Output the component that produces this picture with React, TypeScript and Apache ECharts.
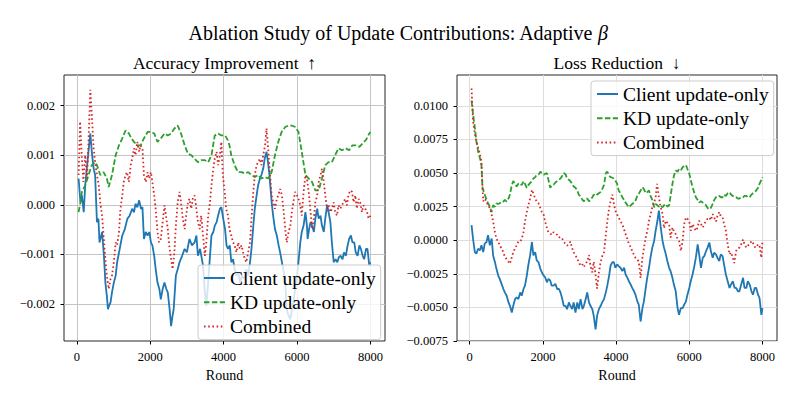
import React, { useEffect, useRef } from 'react';
import * as echarts from 'echarts';

const FONT = '"Liberation Serif", "Times New Roman", serif';
const seriesNames = ['Client update-only', 'KD update-only', 'Combined'];
const seriesColors = ['#1f77b4', '#2ca02c', '#d62728'];
const roundTicks = [0, 2000, 4000, 6000, 8000];
const accTicks = [-0.002, -0.001, 0, 0.001, 0.002];
const lossTicks = [-0.0075, -0.005, -0.0025, 0, 0.0025, 0.005, 0.0075, 0.01];
const mainTitle = 'Ablation Study of Update Contributions: Adaptive ';
const subTitles = ['Accuracy Improvement  \u2191', 'Loss Reduction  \u2193'];
const xName = 'Round';

// Accuracy improvement: [round, value]
const accClient: [number, number][] = [
  [50, 0.00053], [100, 0.00005], [140, 0.00019], [190, -0.00015], [230, 0.00039], [300, 0.00093], [370, 0.00144], [410, 0.00107],
  [460, 0.00073], [500, 0.0006], [550, -0.00035], [590, -0.00028], [620, -0.00076], [690, -0.00055], [740, -0.00103], [780, -0.00157],
  [820, -0.00184], [850, -0.00211], [880, -0.00204], [920, -0.00197], [960, -0.00177], [1010, -0.00157], [1060, -0.00143], [1100, -0.00116],
  [1170, -0.00089], [1240, -0.00062], [1310, -0.00049], [1380, -0.00028], [1440, -0.00022], [1510, -0.00008], [1560, -0.00015], [1600, 0.00002],
  [1650, -0.00005], [1700, 0.00009], [1750, -0.00008], [1790, -0.00005], [1830, -0.00069], [1880, -0.00055], [1930, -0.00062], [1980, -0.00055],
  [2020, -0.00076], [2060, -0.00082], [2110, -0.00103], [2150, -0.0013], [2200, -0.00157], [2250, -0.0017], [2290, -0.00191], [2340, -0.0017],
  [2390, -0.00157], [2440, -0.0017], [2480, -0.00177], [2530, -0.00211], [2570, -0.00245], [2610, -0.00224], [2640, -0.00211], [2700, -0.00143],
  [2750, -0.0013], [2800, -0.00116], [2870, -0.00103], [2940, -0.00089], [3000, -0.00096], [3070, -0.00069], [3140, -0.00082], [3210, -0.00076],
  [3260, -0.00062], [3300, -0.00103], [3360, -0.00089], [3440, -0.00123], [3490, -0.00177], [3530, -0.00204], [3580, -0.00157], [3630, -0.00103],
  [3670, -0.00062], [3720, -0.00055], [3760, -0.00042], [3810, -0.00035], [3850, -0.00022], [3900, -0.00008], [3940, -0.00005], [3990, -0.00028],
  [4040, -0.00049], [4080, -0.00082], [4120, -0.00089], [4170, -0.00082], [4210, -0.00116], [4260, -0.0011], [4300, -0.0013], [4350, -0.00143],
  [4400, -0.00136], [4450, -0.00157], [4500, -0.00143], [4560, -0.0015], [4620, -0.0013], [4670, -0.00143], [4720, -0.00116], [4760, -0.00089],
  [4810, -0.00042], [4850, -0.00008], [4900, 0.00019], [4940, 0.00039], [4990, 0.00053], [5030, 0.0006], [5080, 0.00073], [5120, 0.00093],
  [5170, 0.00107], [5210, 0.00086], [5250, 0.0006], [5310, 0.00005], [5350, -0.00022], [5400, -0.00049], [5450, -0.00062], [5500, -0.00082],
  [5540, -0.00096], [5590, -0.00116], [5640, -0.00136], [5680, -0.00157], [5720, -0.00211], [5770, -0.00224], [5820, -0.00231], [5860, -0.00211],
  [5900, -0.00197], [5950, -0.0017], [6000, -0.00143], [6040, -0.00116], [6090, -0.00076], [6130, -0.00055], [6180, -0.00042], [6230, -0.00015],
  [6270, -0.00042], [6290, -0.00069], [6330, -0.00049], [6370, -0.00035], [6410, -0.00042], [6460, -0.00055], [6500, -0.00028], [6550, -0.00008],
  [6590, -0.00028], [6640, -0.00022], [6680, -0.00042], [6730, -0.00055], [6770, -0.00028], [6820, -0.00001], [6860, -0.00015], [6910, -0.00035],
  [6950, -0.00076], [7000, -0.00116], [7050, -0.0011], [7100, -0.00116], [7140, -0.00106], [7190, -0.00103], [7240, -0.0011], [7280, -0.00096],
  [7330, -0.00103], [7380, -0.00082], [7420, -0.00069], [7470, -0.00062], [7510, -0.00076], [7560, -0.00076], [7600, -0.00096], [7650, -0.00103],
  [7700, -0.00082], [7740, -0.00089], [7790, -0.00103], [7830, -0.0011], [7880, -0.00089], [7920, -0.00089], [7970, -0.00123], [8000, -0.00116],
];

const accKD: [number, number][] = [
  [50, -0.00015], [100, 0.00005], [140, 0.00026], [230, 0.00039], [320, 0.0006], [410, 0.0008], [500, 0.00086], [550, 0.0008],
  [640, 0.0006], [730, 0.00066], [820, 0.00053], [870, 0.00036], [960, 0.0006], [1060, 0.001], [1150, 0.0012], [1240, 0.00134],
  [1330, 0.0015], [1420, 0.00144], [1490, 0.00134], [1560, 0.00127], [1650, 0.0012], [1740, 0.0012], [1830, 0.00134], [1930, 0.00147],
  [2020, 0.00147], [2110, 0.00144], [2200, 0.00127], [2290, 0.00134], [2390, 0.00144], [2480, 0.0014], [2570, 0.00144], [2660, 0.00154],
  [2750, 0.0016], [2840, 0.00144], [2940, 0.0012], [3030, 0.00103], [3120, 0.001], [3210, 0.00093], [3300, 0.00086], [3390, 0.0009],
  [3490, 0.0009], [3580, 0.00086], [3670, 0.001], [3760, 0.0014], [3850, 0.00144], [3940, 0.0014], [4040, 0.0014], [4120, 0.0013],
  [4160, 0.0012], [4210, 0.001], [4300, 0.0008], [4390, 0.00066], [4490, 0.00066], [4580, 0.00063], [4670, 0.00066], [4760, 0.0006],
  [4850, 0.00056], [4940, 0.0006], [5030, 0.00053], [5120, 0.00056], [5220, 0.00053], [5310, 0.00066], [5400, 0.001], [5490, 0.00127],
  [5580, 0.00147], [5680, 0.00157], [5770, 0.0016], [5860, 0.0016], [5950, 0.00157], [6040, 0.00147], [6130, 0.00107], [6230, 0.0006],
  [6320, 0.00053], [6410, 0.00046], [6500, 0.00029], [6590, 0.00029], [6680, 0.00053], [6770, 0.0008], [6860, 0.00086], [6950, 0.00086],
  [7040, 0.001], [7130, 0.00114], [7220, 0.0011], [7330, 0.00114], [7420, 0.0011], [7510, 0.0012], [7600, 0.0012], [7700, 0.00117],
  [7790, 0.00124], [7880, 0.00131], [7970, 0.00144], [8000, 0.00147],
];

const accCombined: [number, number][] = [
  [50, 0.0006], [90, 0.00168], [140, 0.00093], [180, 0.00046], [230, 0.001], [280, 0.00053], [320, 0.00127], [370, 0.00232],
  [410, 0.00181], [460, 0.00114], [500, 0.00086], [550, 0.0006], [600, 0.00039], [640, 0.00005], [690, -0.00022], [730, -0.00062],
  [780, -0.0011], [820, -0.00143], [870, -0.0017], [920, -0.0015], [960, -0.00143], [1010, -0.00116], [1060, -0.00076], [1100, -0.00082],
  [1150, -0.00055], [1190, -0.00008], [1240, 0.00019], [1280, 0.00046], [1330, 0.0006], [1370, 0.00066], [1420, 0.00046], [1470, 0.0008],
  [1510, 0.00093], [1560, 0.00114], [1600, 0.001], [1650, 0.00127], [1700, 0.00107], [1740, 0.0012], [1790, 0.00114], [1830, 0.0006],
  [1880, 0.00046], [1930, 0.00066], [1970, 0.00053], [2020, 0.00066], [2060, 0.00046], [2110, 0.00019], [2150, -0.00008], [2200, -0.00055],
  [2240, -0.00076], [2290, -0.00069], [2340, -0.00035], [2390, -0.00001], [2430, -0.00022], [2480, -0.00049], [2520, -0.00082], [2570, -0.0011],
  [2610, -0.0013], [2660, -0.00096], [2700, -0.00042], [2750, 0.00005], [2800, 0.00026], [2840, 0.00005], [2890, -0.00028], [2940, -0.00049],
  [2980, -0.00022], [3030, 0.00005], [3070, 0.00012], [3120, -0.00008], [3160, 0.00012], [3210, 0.00019], [3260, -0.00008], [3300, -0.00035],
  [3350, -0.00049], [3390, -0.00022], [3440, -0.00062], [3490, -0.00103], [3530, -0.00076], [3580, -0.00022], [3630, 0.00005], [3670, 0.00039],
  [3720, 0.00073], [3760, 0.00093], [3810, 0.00107], [3850, 0.0008], [3900, 0.001], [3940, 0.00127], [3980, 0.0006], [4030, 0.00026],
  [4070, -0.00008], [4120, -0.00022], [4160, -0.00049], [4210, -0.00062], [4260, -0.00076], [4300, -0.00082], [4350, -0.00096], [4400, -0.00076],
  [4440, -0.00089], [4490, -0.00082], [4530, -0.00096], [4580, -0.0011], [4620, -0.00116], [4670, -0.00096], [4720, -0.00076], [4760, -0.00028],
  [4810, 0.00026], [4850, 0.0006], [4900, 0.0008], [4940, 0.00086], [4990, 0.00093], [5030, 0.0008], [5080, 0.001], [5130, 0.0012],
  [5170, 0.00154], [5220, 0.00107], [5260, 0.00066], [5310, 0.00019], [5350, 0.00005], [5400, -0.00008], [5450, 0.00012], [5490, 0.00019],
  [5540, 0.00032], [5590, 0.00019], [5630, -0.00008], [5680, -0.00049], [5720, -0.00076], [5770, -0.00055], [5820, -0.00042], [5860, -0.00015],
  [5900, 0.00005], [5950, 0.00026], [6000, 0.00019], [6040, 0.00012], [6090, -0.00001], [6130, -0.00022], [6180, 0.00026], [6230, 0.0006],
  [6270, 0.00053], [6320, 0.00026], [6370, -0.00015], [6410, -0.00049], [6460, -0.00028], [6500, 0.00005], [6550, 0.00019], [6590, 0.00046],
  [6640, 0.0006], [6680, 0.00073], [6730, 0.00046], [6770, 0.00019], [6820, -0.00008], [6860, -0.00001], [6910, -0.00015], [6950, -0.00008],
  [7000, 0.00005], [7040, -0.00015], [7090, -0.00022], [7130, -0.00001], [7180, -0.00008], [7220, -0.00001], [7270, 0.00005], [7310, 0.00012],
  [7360, -0.00001], [7400, 0.00019], [7450, 0.00029], [7500, 0.00026], [7540, 0.00005], [7590, 0.00019], [7630, -0.00008], [7680, 0.00012],
  [7720, 0.00005], [7770, -0.00015], [7810, -0.00001], [7860, -0.00008], [7910, -0.00015], [7950, -0.00028], [8000, -0.00022],
];

// Loss reduction: [round, value]
const lossClient: [number, number][] = [
  [50, 0.00113], [90, 0.00013], [140, -0.00088], [180, -0.001], [230, -0.00063], [280, -0.00075], [320, -0.00038], [370, -0.00088],
  [410, -0.00025], [460, -0.00013], [500, 0.00038], [550, -0.00038], [600, 0.00013], [640, -0.00113], [690, -0.00163], [730, -0.00213],
  [780, -0.00263], [820, -0.00288], [870, -0.00325], [920, -0.00363], [960, -0.00388], [1010, -0.00413], [1060, -0.00463], [1100, -0.00488],
  [1150, -0.00538], [1190, -0.00488], [1240, -0.00438], [1280, -0.00425], [1330, -0.00438], [1380, -0.00388], [1420, -0.00413], [1470, -0.00363],
  [1510, -0.00338], [1560, -0.00263], [1600, -0.00188], [1650, -0.00113], [1700, -0.00013], [1740, -0.00113], [1790, -0.00088], [1830, -0.0015],
  [1880, -0.00163], [1930, -0.00213], [1970, -0.00238], [2020, -0.00263], [2060, -0.00275], [2110, -0.00313], [2150, -0.00288], [2200, -0.003],
  [2240, -0.00338], [2290, -0.00338], [2340, -0.00325], [2390, -0.00363], [2440, -0.00363], [2480, -0.00388], [2530, -0.00438], [2570, -0.00488],
  [2620, -0.00488], [2660, -0.00513], [2710, -0.00463], [2750, -0.00488], [2800, -0.00513], [2840, -0.00463], [2890, -0.00538], [2940, -0.00463],
  [2980, -0.00513], [3030, -0.00438], [3080, -0.00513], [3120, -0.00488], [3170, -0.00438], [3210, -0.00388], [3260, -0.00463], [3300, -0.00488],
  [3350, -0.00513], [3390, -0.00563], [3440, -0.00663], [3480, -0.00563], [3530, -0.00513], [3580, -0.00488], [3620, -0.00463], [3670, -0.00438],
  [3720, -0.00388], [3760, -0.00338], [3810, -0.00263], [3850, -0.00188], [3900, -0.00163], [3940, -0.00163], [3980, -0.00205], [4030, -0.0018],
  [4070, -0.00193], [4120, -0.00205], [4170, -0.0023], [4220, -0.00205], [4260, -0.00255], [4310, -0.0028], [4350, -0.00305], [4400, -0.0033],
  [4440, -0.00355], [4490, -0.0038], [4530, -0.00405], [4580, -0.00455], [4620, -0.0048], [4670, -0.00605], [4720, -0.00505], [4760, -0.00455],
  [4810, -0.00355], [4850, -0.0028], [4900, -0.00205], [4940, -0.0013], [4990, -0.00055], [5040, -0.00005], [5080, 0.0007], [5130, 0.00145],
  [5170, 0.0022], [5220, 0.00095], [5270, -0.00005], [5310, -0.00055], [5360, -0.00105], [5400, -0.00155], [5450, -0.00205], [5490, -0.0023],
  [5540, -0.0028], [5580, -0.0033], [5630, -0.0038], [5680, -0.00505], [5720, -0.00555], [5770, -0.00505], [5820, -0.00505], [5860, -0.0048],
  [5910, -0.00455], [5950, -0.00405], [6000, -0.00355], [6040, -0.00305], [6090, -0.00255], [6130, -0.00205], [6180, -0.0013], [6230, -0.0003],
  [6270, -0.00105], [6320, -0.00205], [6370, -0.0013], [6410, -0.00118], [6460, -0.0008], [6500, -0.00055], [6550, -0.00018], [6590, -0.0008],
  [6640, -0.0013], [6680, -0.00093], [6730, -0.00105], [6770, -0.0013], [6820, -0.00155], [6860, -0.00105], [6910, -0.00118], [6950, -0.0018],
  [7000, -0.00255], [7050, -0.00305], [7100, -0.00355], [7140, -0.0033], [7190, -0.00305], [7240, -0.00355], [7280, -0.00355], [7330, -0.0038],
  [7370, -0.0038], [7420, -0.0033], [7470, -0.0028], [7510, -0.00355], [7560, -0.00355], [7600, -0.00305], [7650, -0.0033], [7700, -0.0038],
  [7740, -0.00405], [7790, -0.00355], [7830, -0.00355], [7880, -0.00405], [7920, -0.0043], [7970, -0.00555], [8000, -0.00505],
];

const lossKD: [number, number][] = [
  [50, 0.0104], [90, 0.0094], [140, 0.0084], [180, 0.0074], [230, 0.0066], [280, 0.0061], [320, 0.0056], [350, 0.0039],
  [410, 0.0034], [460, 0.003], [500, 0.00275], [550, 0.0025], [600, 0.0021], [640, 0.0026], [690, 0.0025], [730, 0.00275],
  [780, 0.0027], [820, 0.00275], [870, 0.0029], [920, 0.00288], [960, 0.003], [1010, 0.00288], [1060, 0.0031], [1100, 0.0034],
  [1150, 0.0041], [1190, 0.0044], [1240, 0.0042], [1280, 0.004], [1330, 0.0042], [1380, 0.00425], [1420, 0.0041], [1470, 0.0044],
  [1510, 0.0042], [1560, 0.0039], [1600, 0.0041], [1650, 0.00425], [1700, 0.0044], [1740, 0.0046], [1790, 0.0047], [1830, 0.00488],
  [1880, 0.0049], [1930, 0.0051], [1970, 0.005], [2020, 0.00488], [2060, 0.00495], [2110, 0.005], [2150, 0.0045], [2200, 0.0039],
  [2240, 0.0041], [2290, 0.00413], [2340, 0.0043], [2390, 0.0044], [2440, 0.0045], [2480, 0.0046], [2530, 0.0048], [2570, 0.005],
  [2620, 0.0049], [2660, 0.0046], [2710, 0.0045], [2750, 0.0044], [2800, 0.0042], [2840, 0.004], [2890, 0.0039], [2940, 0.0037],
  [2980, 0.0034], [3030, 0.00325], [3080, 0.003], [3120, 0.0029], [3170, 0.0031], [3210, 0.0031], [3260, 0.0029], [3300, 0.003],
  [3350, 0.0032], [3390, 0.0034], [3440, 0.0033], [3480, 0.0034], [3530, 0.0035], [3580, 0.0036], [3620, 0.0038], [3670, 0.0041],
  [3720, 0.005], [3760, 0.0051], [3810, 0.0048], [3850, 0.0047], [3900, 0.00465], [3940, 0.0046], [3980, 0.00445], [4030, 0.0042],
  [4070, 0.0037], [4120, 0.0035], [4170, 0.0032], [4220, 0.003], [4260, 0.0028], [4310, 0.0026], [4350, 0.00245], [4400, 0.0026],
  [4440, 0.0027], [4490, 0.0028], [4530, 0.00295], [4580, 0.0033], [4620, 0.00345], [4670, 0.0037], [4720, 0.00395], [4760, 0.0038],
  [4810, 0.0035], [4860, 0.0036], [4900, 0.0037], [4940, 0.0033], [4990, 0.003], [5040, 0.00245], [5080, 0.0027], [5130, 0.0026],
  [5170, 0.0025], [5220, 0.0026], [5270, 0.00245], [5310, 0.0026], [5360, 0.0027], [5400, 0.0025], [5450, 0.0026], [5490, 0.0033],
  [5540, 0.0042], [5580, 0.0048], [5630, 0.0052], [5680, 0.0051], [5720, 0.0053], [5770, 0.0052], [5820, 0.00545], [5860, 0.0055],
  [5910, 0.0056], [5950, 0.0053], [6000, 0.00495], [6040, 0.0045], [6090, 0.00395], [6130, 0.0036], [6180, 0.0032], [6230, 0.003],
  [6270, 0.0028], [6320, 0.0029], [6370, 0.0028], [6410, 0.0027], [6460, 0.0026], [6500, 0.0024], [6550, 0.0023], [6590, 0.0024],
  [6640, 0.0027], [6680, 0.003], [6730, 0.0032], [6770, 0.0033], [6820, 0.0033], [6860, 0.0032], [6910, 0.0032], [6950, 0.0034],
  [7000, 0.0033], [7050, 0.0035], [7100, 0.00358], [7140, 0.0034], [7190, 0.0033], [7240, 0.0032], [7280, 0.0032], [7330, 0.0031],
  [7370, 0.0031], [7420, 0.0032], [7470, 0.0032], [7510, 0.0033], [7560, 0.0033], [7600, 0.0032], [7650, 0.0032], [7700, 0.0034],
  [7740, 0.0035], [7790, 0.0036], [7830, 0.0037], [7880, 0.0039], [7920, 0.0042], [7970, 0.0045], [8000, 0.0047],
];

const lossCombined: [number, number][] = [
  [50, 0.0113], [70, 0.0101], [90, 0.0089], [140, 0.0079], [180, 0.0074], [230, 0.0069], [280, 0.0064], [320, 0.0059],
  [350, 0.0039], [370, 0.0029], [410, 0.0031], [460, 0.0029], [500, 0.0026], [550, 0.0024], [600, 0.0019], [640, 0.0014],
  [690, 0.0006], [730, 0.0001], [780, -0.0001], [820, -0.0004], [870, -0.0006], [920, -0.0009], [960, -0.00125], [1010, -0.0014],
  [1060, -0.0016], [1100, -0.00175], [1150, -0.00125], [1190, -0.0009], [1240, -0.0006], [1280, -0.0004], [1330, -0.0001], [1380, -0.0001],
  [1420, 0.0001], [1470, 0.0006], [1510, 0.0014], [1560, 0.0021], [1600, 0.0026], [1650, 0.0031], [1700, 0.00375], [1740, 0.0035],
  [1790, 0.0031], [1830, 0.0029], [1880, 0.00275], [1930, 0.0024], [1970, 0.0021], [2020, 0.0019], [2060, 0.0014], [2110, 0.0009],
  [2150, 0.0006], [2200, 0.0005], [2240, 0.0004], [2290, 0.0006], [2340, 0.0005], [2390, 0.0004], [2440, 0.0002], [2480, 0.00025],
  [2530, 0.0001], [2570, -0.0001], [2620, -0.0003], [2660, -0.0004], [2710, -0.0003], [2750, -0.0001], [2800, -0.0006], [2840, -0.0009],
  [2890, -0.0011], [2940, -0.0014], [2980, -0.0016], [3030, -0.0019], [3080, -0.0018], [3120, -0.002], [3170, -0.0017], [3210, -0.0016],
  [3260, -0.0011], [3300, -0.0019], [3350, -0.0024], [3390, -0.0016], [3440, -0.0026], [3480, -0.0036], [3530, -0.0024], [3580, -0.0016],
  [3620, -0.0012], [3670, -0.0009], [3720, 0.0004], [3760, 0.0014], [3810, 0.0024], [3850, 0.0029], [3900, 0.0034], [3940, 0.0027],
  [3980, 0.0022], [4030, 0.0019], [4070, 0.0017], [4120, 0.0014], [4170, 0.0012], [4220, 0.0008], [4260, 0.00045], [4310, 0.0001],
  [4350, -0.0003], [4400, -0.0005], [4440, -0.0008], [4490, -0.0011], [4530, -0.0013], [4580, -0.0014], [4620, -0.0016], [4670, -0.0028],
  [4720, -0.0013], [4760, -0.0006], [4810, 0.0002], [4860, 0.0008], [4900, 0.00145], [4940, 0.0019], [4990, 0.00245], [5040, 0.0028],
  [5080, 0.0032], [5120, 0.0042], [5170, 0.0032], [5220, 0.00245], [5270, 0.00195], [5310, 0.0009], [5360, 0.00145], [5400, 0.0013],
  [5450, 0.0012], [5490, 0.0002], [5540, 0.00095], [5590, 0.0006], [5630, 0.00045], [5680, 0.0001], [5720, -0.00005], [5770, -0.0008],
  [5820, -0.00005], [5860, 0.0012], [5910, 0.0017], [5950, 0.0016], [6000, 0.0014], [6040, 0.0007], [6090, 0.0012], [6130, 0.001],
  [6180, 0.0007], [6230, 0.00095], [6270, 0.00145], [6320, 0.0012], [6370, 0.00095], [6410, 0.0012], [6460, 0.00145], [6500, 0.0016],
  [6550, 0.0017], [6590, 0.0015], [6640, 0.00195], [6680, 0.0017], [6730, 0.0014], [6770, 0.0018], [6820, 0.0021], [6860, 0.0018],
  [6910, 0.0017], [6950, 0.0012], [7000, 0.0007], [7050, -0.0003], [7100, -0.00105], [7140, -0.0009], [7190, -0.0013], [7230, -0.0017],
  [7280, -0.0008], [7330, -0.0006], [7370, -0.00055], [7420, -0.0003], [7470, 0.00005], [7510, -0.0003], [7560, -0.00055], [7600, -0.0004],
  [7650, -0.0003], [7700, -0.00005], [7740, -0.0002], [7790, -0.0005], [7830, -0.00055], [7880, -0.0003], [7920, -0.0004], [7970, -0.0013],
  [8000, -0.00005],
];

const dashTypes: any[] = ['solid', [5.5, 2.4], [1.6, 2.6]];

function fmt(v: number, d: number) {
  const s = Math.abs(v) < 1e-12 ? (0).toFixed(d) : v.toFixed(d);
  return s.replace('-', '\u2212');
}

export default function App() {
  const ref = useRef<HTMLDivElement>(null);
  useEffect(() => {
    if (!ref.current) return;
    const chart = echarts.init(ref.current, null, { renderer: 'svg' });

    const makeX = (gi: number) => ({
      type: 'value', gridIndex: gi, min: -347.5, max: 8397.5,
      name: xName, nameLocation: 'middle', nameGap: 27,
      nameTextStyle: { fontFamily: FONT, fontSize: 14, color: '#000' },
      axisLine: { show: false, onZero: false },
      axisTick: { show: true, customValues: roundTicks, length: 3.5, lineStyle: { color: '#000', width: 1 } },
      axisLabel: { customValues: roundTicks, margin: 9, fontFamily: FONT, fontSize: 12.5, color: '#000', formatter: (v: number) => String(Math.round(v)) },
      splitLine: { show: true, lineStyle: { color: gi === 0 ? '#c4c4c4' : '#dedede', width: 1 } },
    });
    const makeY = (gi: number, min: number, max: number, ticks: number[], d: number) => ({
      type: 'value', gridIndex: gi, min, max,
      axisLine: { show: false, onZero: false },
      axisTick: { show: true, customValues: ticks, length: 3.5, lineStyle: { color: '#000', width: 1 } },
      axisLabel: { customValues: ticks, margin: 9, fontFamily: FONT, fontSize: 12.5, color: '#000', formatter: (v: number) => fmt(v, d) },
      splitLine: { show: true, lineStyle: { color: gi === 0 ? '#c4c4c4' : '#dedede', width: 1 } },
    });

    const groups = [
      [accClient, accKD, accCombined],
      [lossClient, lossKD, lossCombined],
    ];
    const series: any[] = [];
    groups.forEach((g, gi) => {
      g.forEach((data, si) => {
        series.push({
          type: 'line', name: seriesNames[si], data, xAxisIndex: gi, yAxisIndex: gi,
          symbol: 'none', showSymbol: false, silent: true,
          lineStyle: { color: seriesColors[si], width: 1.8, type: dashTypes[si] },
          itemStyle: { color: seriesColors[si] },
          z: 2 + si,
        });
      });
    });

    const legendCommon = {
      data: seriesNames, orient: 'vertical', itemWidth: 21, itemHeight: 14, itemGap: 4.3,
      padding: [3, 5, 3, 5], backgroundColor: 'rgba(255,255,255,0.8)', borderColor: '#cccccc',
      borderWidth: 1, borderRadius: 3, selectedMode: false, z: 10,
      itemStyle: { opacity: 0 },
      textStyle: { fontFamily: FONT, fontSize: 19.5, color: '#000', lineHeight: 19 },
    };

    chart.setOption({
      animation: false,
      backgroundColor: '#ffffff',
      grid: [
        { left: 64, top: 75, width: 321, height: 266, show: true, borderColor: '#262626', borderWidth: 1, backgroundColor: 'transparent' },
        { left: 457, top: 75, width: 320, height: 266, show: true, borderColor: '#262626', borderWidth: 1, backgroundColor: 'transparent' },
      ],
      xAxis: [makeX(0), makeX(1)],
      yAxis: [makeY(0, -0.00275, 0.00262, accTicks, 3), makeY(1, -0.0075, 0.0123, lossTicks, 4)],
      legend: [
        { ...legendCommon, left: 198, top: 265 },
        { ...legendCommon, left: 591, top: 81 },
      ],
      graphic: [
        {
          type: 'text', x: 398, y: 33, z: 20,
          style: {
            text: mainTitle + '{i|\u03b2}', align: 'center', verticalAlign: 'middle',
            fontFamily: FONT, fontSize: 20, fill: '#000',
            rich: { i: { fontFamily: FONT, fontSize: 20, fontStyle: 'italic', fill: '#000' } },
          },
        },
        { type: 'text', x: 224.5, y: 63, z: 20, style: { text: subTitles[0], align: 'center', verticalAlign: 'middle', fontFamily: FONT, fontSize: 17.5, fill: '#000' } },
        { type: 'text', x: 617, y: 63, z: 20, style: { text: subTitles[1], align: 'center', verticalAlign: 'middle', fontFamily: FONT, fontSize: 17.5, fill: '#000' } },
      ],
      series,
    });
    return () => chart.dispose();
  }, []);
  return <div ref={ref} style={{ position: 'absolute', left: 0, top: 0, width: 793, height: 397 }} />;
}
